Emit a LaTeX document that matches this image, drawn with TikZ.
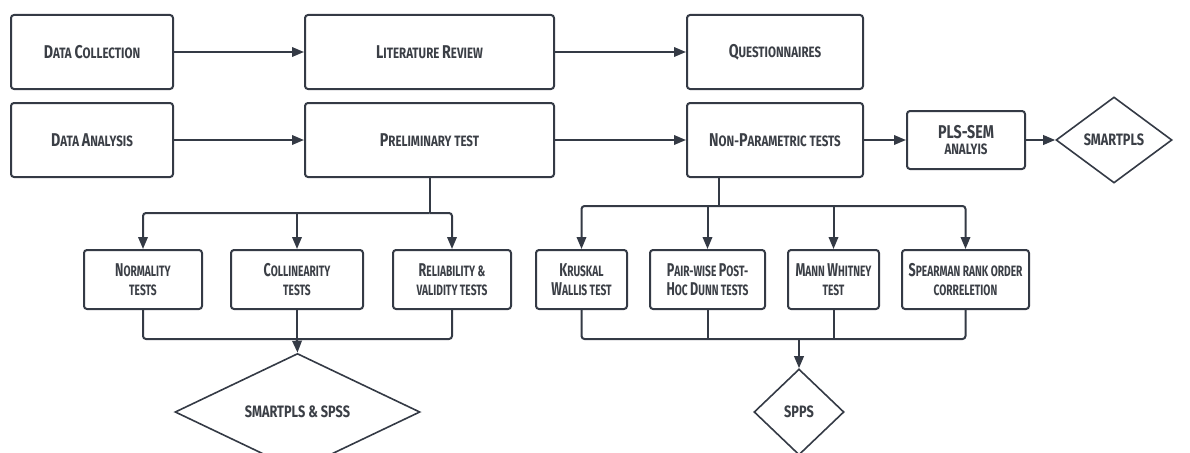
\documentclass[tikz,border=0pt]{standalone}
\usepackage{fontspec}
\newfontfamily\labfont{Fira Sans}[FakeStretch=0.77]
\newfontfamily\labfontn{Fira Sans}[FakeStretch=0.68]
\usetikzlibrary{arrows.meta,shapes.geometric}
\definecolor{ink}{HTML}{343A45}
\definecolor{txt}{HTML}{3B3F46}
\newcommand\Cp[1]{{\fontsize{18.5}{19}\selectfont #1}}
\tikzset{
  box/.style={draw=ink, line width=2pt, rounded corners=3pt, fill=white, inner sep=0pt, align=center,
    text=txt, font=\labfont\bfseries\fontsize{15}{18.5}\selectfont},
  tbox/.style={box, minimum height=59, font=\labfontn\bfseries\fontsize{15}{18.5}\selectfont},
  dia/.style={draw=ink, line width=1.6pt, shape=diamond, fill=white, inner sep=0pt, align=center,
    text=txt, font=\labfont\bfseries\fontsize{16.5}{18}\selectfont},
  con/.style={draw=ink, line width=2pt, rounded corners=3pt},
  arr/.style={con, -{Triangle[length=12pt,width=9.5pt]}}
}
\begin{document}
\begin{tikzpicture}[x=1pt,y=-1pt]
\useasboundingbox (0,0) rectangle (1190,452);
% top rows
\node[box, minimum width=162, minimum height=74] (dc) at (92,52) {\Cp{D}ATA \Cp{C}OLLECTION};
\node[box, minimum width=162, minimum height=74] (da) at (92,140) {\Cp{D}ATA \Cp{A}NALYSIS};
\node[box, minimum width=249, minimum height=74] (lr) at (429.5,52) {\Cp{L}ITERATURE \Cp{R}EVIEW};
\node[box, minimum width=249, minimum height=74] (pt) at (429.5,140) {\Cp{P}RELIMINARY TEST};
\node[box, minimum width=176, minimum height=74] (qu) at (775,52) {\Cp{Q}UESTIONNAIRES};
\node[box, minimum width=176, minimum height=74] (np) at (775,140) {\Cp{N}ON-\Cp{P}ARAMETRIC TESTS};
\node[box, minimum width=118, minimum height=58] (pls) at (966,140) {\Cp{PLS-SEM}\\[-3pt]ANALYIS};
\node[dia, minimum width=116, minimum height=86] (sm) at (1114,140) {SMARTPLS};
% left tests
\node[tbox, minimum width=118] (nor) at (143,279.5) {\Cp{N}ORMALITY\\TESTS};
\node[tbox, minimum width=132] (col) at (297,279.5) {\Cp{C}OLLINEARITY\\TESTS};
\node[tbox, minimum width=118] (rel) at (452,279.5) {\Cp{R}ELIABILITY \&\\VALIDITY TESTS};
\node[dia, minimum width=245, minimum height=86] (sps) at (297.5,412) {SMARTPLS \& SPSS};
% right tests
\node[tbox, minimum width=91] (kr) at (581.5,279.5) {\Cp{K}RUSKAL\\\Cp{W}ALLIS TEST};
\node[tbox, minimum width=115] (pw) at (707.5,279.5) {\Cp{P}AIR-WISE \Cp{P}OST-\\\Cp{H}OC \Cp{D}UNN TESTS};
\node[tbox, minimum width=91] (mw) at (833.5,279.5) {\Cp{M}ANN \Cp{W}HITNEY\\TEST};
\node[tbox, minimum width=127] (sp) at (965.5,279.5) {\Cp{S}PEARMAN RANK ORDER\\CORRELETION};
\node[dia, minimum width=90, minimum height=86] (spps) at (799,412) {SPPS};
% horizontal arrows
\draw[arr] (dc) -- (lr);
\draw[arr] (lr) -- (qu);
\draw[arr] (da) -- (pt);
\draw[arr] (pt) -- (np);
\draw[arr] (np) -- (pls);
\draw[arr] (pls) -- (sm);
% left tree
\coordinate (b1) at (429.5,213);
\coordinate (m1) at (297,339);
\draw[con] (pt.south) -- (b1);
\draw[arr] (b1) -| (nor.north);
\draw[arr] (b1) -| (rel.north);
\draw[arr] (col.north |- b1) -- (col.north);
\draw[con] (nor.south) |- (m1);
\draw[con] (rel.south) |- (m1);
\draw[con] (col.south) -- (m1);
\draw[arr] (m1) -- (sps.north);
% right tree
\coordinate (t2) at (719,177);
\coordinate (b2) at (719,206);
\coordinate (m2) at (799,339);
\draw[con] (t2) -- (b2);
\draw[arr] (b2) -| (kr.north);
\draw[arr] (b2) -| (sp.north);
\draw[arr] (pw.north |- b2) -- (pw.north);
\draw[arr] (mw.north |- b2) -- (mw.north);
\draw[con] (kr.south) |- (m2);
\draw[con] (sp.south) |- (m2);
\draw[con] (pw.south) -- (pw.south |- m2);
\draw[con] (mw.south) -- (mw.south |- m2);
\draw[arr] (m2) -- (spps.north);
\end{tikzpicture}
\end{document}
